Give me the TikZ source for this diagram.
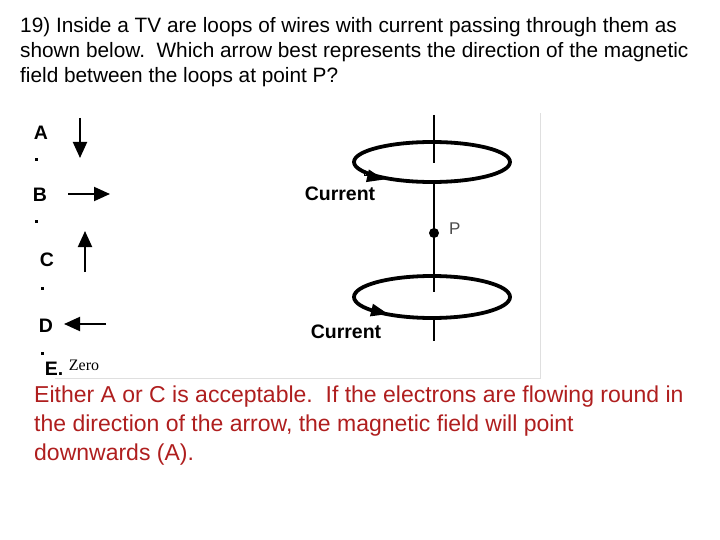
\documentclass[tikz,border=0pt]{standalone}
\usepackage{fontspec}
\setmainfont{Liberation Sans}
\newfontfamily\serifz{Liberation Serif}
\usetikzlibrary{arrows.meta}
\definecolor{ans}{RGB}{175,30,30}
\begin{document}
\begin{tikzpicture}[x=1pt,y=-1pt,
  q/.style={anchor=west,inner sep=0,font=\fontsize{20.8}{24}\selectfont},
  lab/.style={inner sep=0,font=\bfseries\fontsize{19.5}{22}\selectfont},
  ansr/.style={anchor=west,inner sep=0,text=ans,font=\fontsize{23}{26}\selectfont},
  wire/.style={line width=2pt},
  ring/.style={line width=3.8pt},
  opt/.style={line width=2pt,-{Triangle[length=16pt,width=14pt]}},
  cur/.style={line width=0pt,-{Triangle[length=17pt,width=13pt]}},
  dotm/.style={fill,inner sep=0,minimum size=3pt}]
\useasboundingbox (0,0) rectangle (720,540);
\draw[gray!25,line width=1pt] (55,378) -- (540,378) -- (540,113);
\node[q] (q1) at (20,27) {19) Inside a TV are loops of wires with current passing through them as};
\node[q] (q2) at (20,52) {shown below.\ \ Which arrow best represents the direction of the magnetic};
\node[q] (q3) at (20,77) {field between the loops at point P?};
% options
\node[lab] (la) at (41,133) {A}; \node[dotm] (da) at (36,160) {};
\node[lab] (lb) at (40,195) {B}; \node[dotm] (db) at (36,222) {};
\node[lab] (lc) at (47,260) {C}; \node[dotm] (dc) at (42,288) {};
\node[lab] (ld) at (46,326) {D}; \node[dotm] (dd) at (42,353) {};
\node[lab] (le) at (54,369) {E.};
\node[inner sep=0,font=\serifz\fontsize{16}{18}\selectfont] (z) at (84,365) {Zero};
\coordinate (a1) at (80,118); \coordinate (a2) at (80,158);
\coordinate (b1) at (68,194); \coordinate (b2) at (110,194);
\coordinate (c1) at (85,272); \coordinate (c2) at (85,231);
\coordinate (d1) at (106,324); \coordinate (d2) at (64,324);
\draw[opt] (a1) -- (a2);
\draw[opt] (b1) -- (b2);
\draw[opt] (c1) -- (c2);
\draw[opt] (d1) -- (d2);
% loops
\coordinate (t0) at (434,115); \coordinate (t1) at (434,163);
\coordinate (m0) at (434,182); \coordinate (m1) at (434,292);
\coordinate (b0) at (434,318); \coordinate (bb) at (434,341);
\draw[wire] (t0) -- (t1);
\draw[wire] (m0) -- (m1);
\draw[wire] (b0) -- (bb);
\draw[ring] (432,162) ellipse [x radius=78,y radius=20];
\draw[ring] (432,297) ellipse [x radius=78,y radius=21];
\coordinate (h1a) at (364,175); \coordinate (h1b) at (384,179.5);
\coordinate (h2a) at (367,309); \coordinate (h2b) at (388,314);
\draw[cur] (h1a) -- (h1b);
\draw[cur] (h2a) -- (h2b);
\node[circle,fill,inner sep=0,minimum size=10pt] (p) at (434,233) {};
\node[anchor=west,inner sep=0,font=\fontsize{17}{20}\selectfont,text=black!70] (pl) at (449,229) {P};
\node[lab] (c1l) at (340,194) {Current};
\node[lab] (c2l) at (346,332) {Current};
% answer
\node[ansr] (r1) at (34,397) {Either A or C is acceptable.\ \ If the electrons are flowing round in};
\node[ansr] (r2) at (34,426) {the direction of the arrow, the magnetic field will point};
\node[ansr] (r3) at (34,455) {downwards (A).};
\end{tikzpicture}
\end{document}
